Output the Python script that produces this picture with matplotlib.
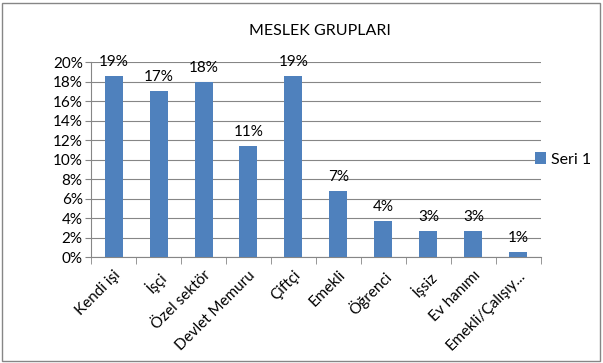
import numpy as np
import matplotlib
matplotlib.use("Agg")
from matplotlib import pyplot as plt
from matplotlib.patches import Rectangle
from matplotlib.ticker import FuncFormatter

plt.rcParams['font.family'] = ['Lato', 'DejaVu Sans']

categories = [u'Kendi işi', u'İşçi', u'Özel sektör', u'Devlet Memuru', u'Çiftçi',
              u'Emekli', u'Öğrenci', u'İşsiz', u'Ev hanımı', u'Emekli/Çalışıy...']
values = [0.186, 0.170, 0.180, 0.114, 0.186, 0.068, 0.037, 0.027, 0.027, 0.005]
labels = ['19%', '17%', '18%', '11%', '19%', '7%', '4%', '3%', '3%', '1%']

fig = plt.figure(figsize=(6.03, 3.63), dpi=100)
ax = fig.add_axes([0.151, 0.292, 0.746, 0.537])

x = np.arange(len(categories))
bars = ax.bar(x, values, width=0.4, color='#4F81BD', label='Seri 1', zorder=3)

for b, lab in zip(bars, labels):
    ax.annotate(lab, (b.get_x() + b.get_width() / 2, b.get_height()),
                xytext=(0, 5), textcoords='offset points',
                ha='center', va='bottom', fontsize=11, zorder=4)

ax.set_xlim(-0.5, len(categories) - 0.5)
ax.set_ylim(0, 0.2)
ax.set_yticks(np.arange(0, 0.201, 0.02))
ax.yaxis.set_major_formatter(FuncFormatter(lambda v, p: '%d%%' % round(v * 100)))
ax.yaxis.grid(True, color='#868686', linewidth=0.8, zorder=0)
ax.tick_params(axis='y', labelsize=11, length=4, color='#868686', pad=2)

ax.set_xticks(x)
ax.set_xticklabels(categories, rotation=45, ha='right', rotation_mode='anchor', fontsize=11)
ax.set_xticks(np.arange(-0.5, len(categories)), minor=True)
ax.tick_params(axis='x', which='major', length=0, pad=8)
ax.tick_params(axis='x', which='minor', length=5, color='#868686')

for s in ['top', 'right']:
    ax.spines[s].set_visible(False)
for s in ['left', 'bottom']:
    ax.spines[s].set_color('#868686')

fig.text(0.53, 0.915, 'MESLEK GRUPLARI', ha='center', va='center', fontsize=11.5)

ax.legend(loc='center left', bbox_to_anchor=(0.955, 0.5), frameon=False,
          fontsize=11.5, handlelength=0.7, handleheight=0.7, handletextpad=0.3)

fig.patches.append(Rectangle((0.003, 0.006), 0.992, 0.985, transform=fig.transFigure,
                             fill=False, edgecolor='#868686', linewidth=1))

fig.savefig('out.png', dpi=100)
